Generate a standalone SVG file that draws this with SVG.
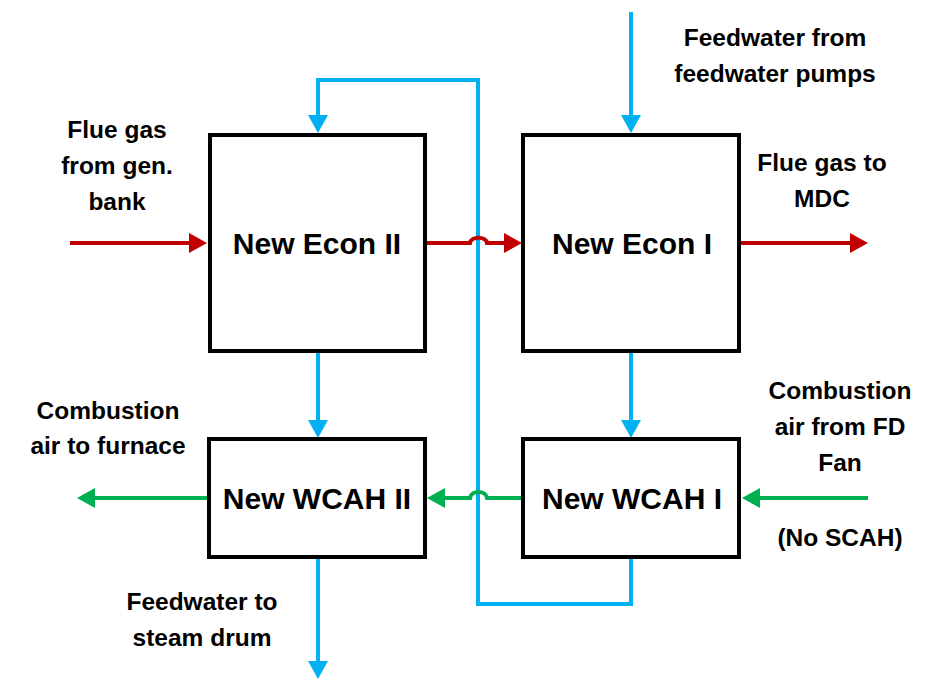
<svg xmlns="http://www.w3.org/2000/svg" width="947" height="689" viewBox="0 0 947 689">
<style>
text{font-family:"Liberation Sans",Arial,sans-serif;font-weight:bold;fill:#000;text-anchor:middle}
.lbl{font-size:24.5px}
.main{font-size:30px}
.box{fill:#fff;stroke:#000;stroke-width:4}
.red{fill:none;stroke:#C00000;stroke-width:4}
.blue{fill:none;stroke:#00B0F0;stroke-width:4}
.green{fill:none;stroke:#00B050;stroke-width:4}
</style>
<defs>
<marker id="aR" viewBox="0 0 18 20" refX="1" refY="10" markerWidth="18" markerHeight="20" markerUnits="userSpaceOnUse" orient="auto"><path d="M0,0 L18,10 L0,20 z" fill="#C00000"/></marker>
<marker id="aB" viewBox="0 0 18 20" refX="1" refY="10" markerWidth="18" markerHeight="20" markerUnits="userSpaceOnUse" orient="auto"><path d="M0,0 L18,10 L0,20 z" fill="#00B0F0"/></marker>
<marker id="aG" viewBox="0 0 18 20" refX="1" refY="10" markerWidth="18" markerHeight="20" markerUnits="userSpaceOnUse" orient="auto"><path d="M0,0 L18,10 L0,20 z" fill="#00B050"/></marker>
</defs>
<g id="connectors">
<path class="blue" d="M478,540 V604 H631 V557"/>
<path class="blue" d="M478,604 V80 H318 V116" marker-end="url(#aB)"/>
<path class="blue" d="M631,12 V116" marker-end="url(#aB)"/>
<path class="blue" d="M318,351 V421" marker-end="url(#aB)"/>
<path class="blue" d="M631,351 V421" marker-end="url(#aB)"/>
<path class="blue" d="M318,557 V662" marker-end="url(#aB)"/>
<path class="red" d="M70,243 H190" marker-end="url(#aR)"/>
<path class="red" d="M427,243 H470 C471,236 486,236 487,243 H505" marker-end="url(#aR)"/>
<path class="red" d="M741,243 H851" marker-end="url(#aR)"/>
<path class="green" d="M523,498 H487 C486,490 471,490 470,498 H444" marker-end="url(#aG)"/>
<path class="green" d="M207,498 H94" marker-end="url(#aG)"/>
<path class="green" d="M868,498 H759" marker-end="url(#aG)"/>
</g>
<g id="econ2"><rect class="box" x="210" y="135" width="215" height="216"/><text class="main" x="317" y="254">New Econ II</text></g>
<g id="econ1"><rect class="box" x="523" y="135" width="216" height="216"/><text class="main" x="632" y="254">New Econ I</text></g>
<g id="wcah2"><rect class="box" x="209" y="439" width="216" height="118"/><text class="main" x="317" y="509">New WCAH II</text></g>
<g id="wcah1"><rect class="box" x="523" y="439" width="216" height="118"/><text class="main" x="632" y="509">New WCAH I</text></g>
<g id="labels">
<text class="lbl" x="117" y="138">Flue gas</text>
<text class="lbl" x="117" y="174">from gen.</text>
<text class="lbl" x="117" y="210">bank</text>
<text class="lbl" x="775" y="46">Feedwater from</text>
<text class="lbl" x="775" y="82">feedwater pumps</text>
<text class="lbl" x="822" y="171">Flue gas to</text>
<text class="lbl" x="822" y="207">MDC</text>
<text class="lbl" x="108" y="419">Combustion</text>
<text class="lbl" x="108" y="454">air to furnace</text>
<text class="lbl" x="840" y="399">Combustion</text>
<text class="lbl" x="840" y="435">air from FD</text>
<text class="lbl" x="840" y="471">Fan</text>
<text class="lbl" x="840" y="546">(No SCAH)</text>
<text class="lbl" x="202" y="610">Feedwater to</text>
<text class="lbl" x="202" y="646">steam drum</text>
</g>
</svg>
